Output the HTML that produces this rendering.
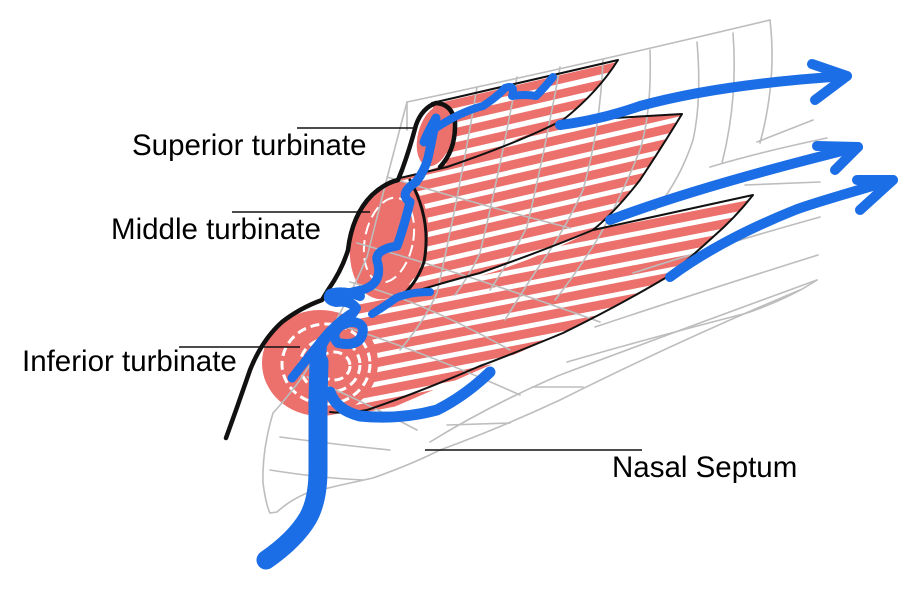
<!DOCTYPE html>
<html><head><meta charset="utf-8">
<style>
html,body{margin:0;padding:0;background:#fff;}
svg{display:block}
text{font-family:"Liberation Sans",Arial,sans-serif;font-size:29.5px;fill:#000}
</style></head><body>
<svg width="916" height="591" viewBox="0 0 916 591" xmlns="http://www.w3.org/2000/svg">
<defs>
<clipPath id="cs"><path d="M432,103 L618,60 Q596,94 563,120 Q520,142 447,167 Z"/></clipPath>
<clipPath id="cm"><path d="M398,180 L470,157 L563,121 L682,114 Q660,150 640,180 Q615,212 593,230 Q545,250 480,273 Q430,286 395,298 Z"/></clipPath>
<clipPath id="ci"><path d="M360,302 Q420,292 480,276 Q540,258 593,230 L753,195 Q735,217 713,237 Q690,258 667,277 Q620,305 563,333 Q480,370 380,413 L330,413 Z"/></clipPath>
</defs>
<rect width="916" height="591" fill="#fff"/>

<!-- red stripes -->
<g clip-path="url(#cs)">
 <g transform="rotate(-13 430 130)" stroke="#ec706c" stroke-width="8.5" stroke-linecap="round" fill="none">
  <path d="M440,96 L650,96 M440,110 L650,110 M440,124 L650,124 M440,138 L650,138 M440,152 L650,152 M440,166 L650,166 M440,180 L650,180"/>
 </g>
</g>
<g clip-path="url(#cm)">
 <g transform="rotate(-13 400 240)" stroke="#ec706c" stroke-width="9" stroke-linecap="round" fill="none">
  <path d="M395,150 L720,150 M395,164 L720,164 M395,178 L720,178 M395,192 L720,192 M395,206 L720,206 M395,220 L720,220 M395,234 L720,234 M395,248 L720,248 M395,262 L720,262 M395,276 L720,276 M395,290 L720,290 M395,304 L720,304 M395,318 L720,318"/>
 </g>
</g>
<g clip-path="url(#ci)">
 <g transform="rotate(-11 380 360)" stroke="#ec706c" stroke-width="9" stroke-linecap="round" fill="none">
  <path d="M330,250 L790,250 M330,264 L790,264 M330,278 L790,278 M330,292 L790,292 M330,306 L790,306 M330,320 L790,320 M330,334 L790,334 M330,348 L790,348 M330,362 L790,362 M330,376 L790,376 M330,390 L790,390 M330,404 L790,404 M330,418 L790,418 M330,432 L790,432"/>
 </g>
</g>

<!-- ellipses -->
<ellipse cx="435" cy="136" rx="17" ry="31" transform="rotate(15 435 136)" fill="#ec706c"/>
<ellipse cx="389" cy="240" rx="38" ry="60" transform="rotate(12 389 240)" fill="#ec706c"/>
<ellipse cx="389" cy="240" rx="24" ry="43" transform="rotate(12 389 240)" fill="none" stroke="#fff" stroke-width="2" stroke-dasharray="12 6"/>
<ellipse cx="320" cy="363" rx="58" ry="53" fill="#ec706c"/>
<g fill="none" stroke="#fff" stroke-width="3" stroke-dasharray="9 5">
 <ellipse cx="326" cy="364" rx="44" ry="40"/>
 <ellipse cx="330" cy="365" rx="30" ry="27"/>
 <ellipse cx="334" cy="366" rx="16" ry="14"/>
</g>

<!-- gray mesh -->
<g fill="none" stroke="#bdbdbd" stroke-width="1.6" stroke-linecap="round">
 <path d="M407,130 L407,102 Q560,70 770,20"/>
 <path d="M407,102 Q387,177 367,257 Q340,320 300,380 Q285,400 273,413 Q262,450 263,483 Q266,505 270,513 L277,512 Q290,500 307,493 Q340,485 373,478 Q410,465 440,450 Q500,428 560,400 Q680,340 800,290"/>
 <path d="M770,20 Q777,80 760,143"/>
 <path d="M733,33 Q738,100 722,163"/>
 <path d="M697,42 Q702,100 693,140 Q680,180 655,210"/>
 <path d="M650,50 Q652,110 640,150 Q620,200 597,240 Q575,275 555,300"/>
 <path d="M603,60 Q600,130 583,190 Q565,230 540,265 Q520,295 505,320"/>
 <path d="M560,67 Q545,150 527,227 Q510,260 490,290"/>
 <path d="M517,77 Q500,170 480,253 Q470,275 455,295"/>
 <path d="M477,87 Q460,190 437,293 Q425,320 400,350"/>
 <path d="M387,177 Q480,205 570,228"/>
 <path d="M357,243 Q470,275 600,322"/>
 <path d="M350,282 Q420,300 510,350"/>
 <path d="M333,323 Q420,350 520,395"/>
 <path d="M307,377 Q360,400 417,430"/>
 <path d="M280,437 Q340,445 390,450"/>
 <path d="M270,470 Q320,478 363,480"/>
 <path d="M430,442 Q490,405 560,375 Q680,330 817,280"/>
 <path d="M567,362 Q650,338 747,313 Q790,298 817,280"/>
 <path d="M595,327 Q700,292 818,255"/>
 <path d="M633,273 Q720,245 820,217"/>
 <path d="M710,167 Q760,152 827,138"/>
 <path d="M757,142 L813,120"/>
 <path d="M745,185 L820,182"/>
 <path d="M532,387 L583,387"/>
 <path d="M447,425 L510,423"/>
</g>

<!-- black outlines -->
<g fill="none" stroke="#111" stroke-linecap="round" stroke-linejoin="round">
 <path stroke-width="4.5" d="M226,438 Q238,405 250,370 Q262,340 282,322 Q300,308 322,300 L328,290 Q342,270 348,250 Q352,215 372,195 Q385,183 398,180 L402,170 Q410,148 416,125 Q422,108 436,103 Q452,104 455,122 Q456,150 440,167"/>
 <path stroke-width="3" d="M410,180 Q432,220 424,262 Q416,285 400,297"/>
 <path stroke-width="2" d="M432,103 L618,60 Q598,92 563,120 Q520,142 447,167 L400,178"/>
 <path stroke-width="2" d="M563,121 L682,114 Q660,150 640,180 Q615,212 593,230 Q545,250 480,273 Q430,286 395,298"/>
 <path stroke-width="2" d="M593,230 L753,195 Q735,218 713,237 Q690,258 667,277 Q620,305 563,333 Q510,355 480,366 Q420,392 367,410 Q345,414 330,412"/>
</g>

<!-- blue flows -->
<g fill="none" stroke="#1b6ee6" stroke-linecap="round" stroke-linejoin="round">
 <path stroke-width="19" d="M266,560 Q295,540 308,518 Q318,500 318,470 L318,400 L319,362"/>
 <path stroke-width="10" d="M320,370 L322,345 Q330,328 350,322 Q366,322 362,335 Q358,347 338,343 Q330,335 340,326 Q352,316 356,308 Q350,300 336,302 Q326,300 330,294 Q342,290 360,296"/>
 <path stroke-width="9" d="M292,378 L322,340 Q335,324 350,314"/>
 <path stroke-width="9" d="M340,296 Q350,292 362,290 Q382,284 378,264 Q372,250 397,246 Q403,230 410,202 Q398,194 416,182 Q425,170 428,158 Q432,140 436,118 Q428,132 424,142"/>
 <path stroke-width="8" d="M436,128 Q460,112 483,106 Q498,96 505,88 Q516,84 512,96 Q526,94 536,96 Q546,86 553,77"/>
 <path stroke-width="11" d="M330,392 Q336,410 360,416 Q400,420 437,410 Q465,396 490,372"/>
 <path stroke-width="8" d="M372,314 Q385,306 396,298 Q410,292 430,292"/>
 <path stroke-width="10" d="M560,125 Q600,120 640,106 Q720,84 847,76"/>
 <path stroke-width="10" d="M812,64 L847,76 L815,100"/>
 <path stroke-width="10" d="M610,220 Q700,186 858,147"/>
 <path stroke-width="10" d="M817,146 L858,147 L835,170"/>
 <path stroke-width="10" d="M670,277 Q720,240 795,210 Q810,204 893,180"/>
 <path stroke-width="10" d="M857,180 L893,180 L860,210"/>
</g>

<!-- label leader lines -->
<g stroke="#111" stroke-width="1.6">
 <line x1="297" y1="128" x2="413" y2="128"/>
 <line x1="232" y1="212" x2="370" y2="212"/>
 <line x1="179" y1="347" x2="300" y2="347"/>
 <line x1="425" y1="450" x2="642" y2="450"/>
</g>

<text x="132" y="155">Superior turbinate</text>
<text x="111" y="239">Middle turbinate</text>
<text x="22" y="371">Inferior turbinate</text>
<text x="612" y="477">Nasal Septum</text>
</svg>
</body></html>
